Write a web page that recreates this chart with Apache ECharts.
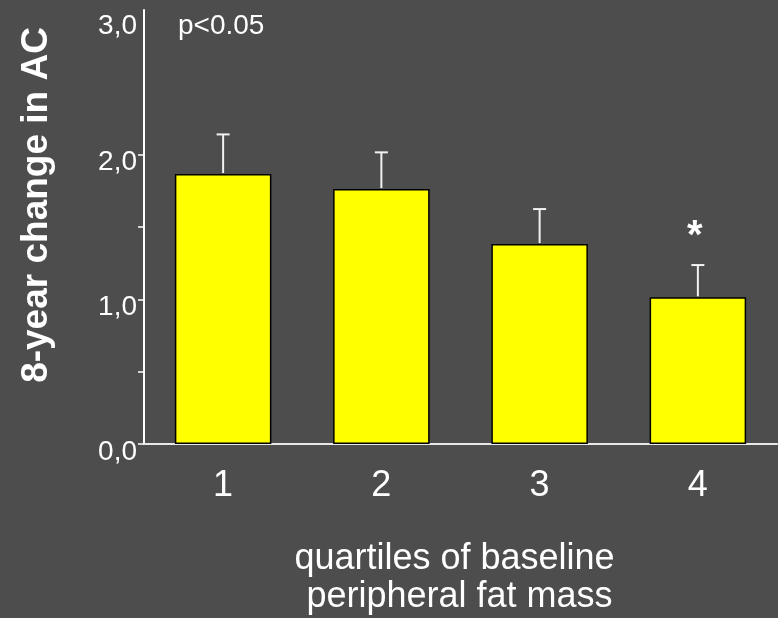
<!DOCTYPE html>
<html>
<head>
<meta charset="utf-8">
<script src="https://cdn.jsdelivr.net/npm/echarts@6/dist/echarts.min.js"></script>
<style>
  html, body { margin: 0; padding: 0; background: #4d4d4d; }
  #chart { width: 778px; height: 618px; }
</style>
</head>
<body>
<div id="chart"></div>
<script>
// Quartiles of baseline peripheral fat mass
const quartiles = ['1', '2', '3', '4'];
// Mean 8-year change in AC per quartile
const meanChange = [1.866, 1.762, 1.382, 1.014];
// Upper end of the error bar (mean + SE)
const upperError = [2.14, 2.016, 1.624, 1.237];
// Significance marker above each bar
const sigMarks = ['', '', '', '*'];
// Y axis ticks and labels
const yTicks = [0, 0.5, 1, 1.5, 2];
const yLabels = [0, 1, 2, 3];

const FONT = '"Liberation Sans", Arial, sans-serif';
const chart = echarts.init(document.getElementById('chart'));

const errData = quartiles.map((q, i) => [i, meanChange[i], upperError[i]]);

chart.setOption({
  backgroundColor: '#4d4d4d',
  animation: false,
  grid: { left: 144, right: 1, top: 10, bottom: 174, outerBoundsMode: 'none', containLabel: false },
  xAxis: {
    type: 'category',
    data: quartiles,
    axisLine: { lineStyle: { color: '#e8e8e8', width: 2 } },
    axisTick: { alignWithLabel: true, length: 5, lineStyle: { color: '#000', width: 2 } },
    axisLabel: { color: '#fff', fontSize: 36, fontFamily: FONT, margin: 24 },
    name: 'quartiles of baseline\n peripheral fat mass',
    nameLocation: 'middle',
    nameGap: 96,
    nameTextStyle: { color: '#fff', fontSize: 36, fontFamily: FONT, lineHeight: 38, padding: [0, 12, 0, 0] }
  },
  yAxis: {
    type: 'value',
    min: 0,
    max: 3,
    interval: 1,
    splitLine: { show: false },
    axisLine: { show: true, lineStyle: { color: '#fff', width: 2 } },
    axisTick: { show: true, length: 6, customValues: yTicks, lineStyle: { color: '#fff', width: 1.5 } },
    axisLabel: {
      customValues: yLabels,
      color: '#fff', fontSize: 28, fontFamily: FONT, margin: 7,
      padding: [16, 0, 0, 0],
      formatter: v => (v === 3 ? '{top|3,0}' : v.toFixed(1).replace('.', ',')),
      rich: { top: { color: '#fff', fontSize: 28, fontFamily: FONT, padding: [16, 0, 0, 0] } }
    },
    name: '8-year change in AC',
    nameLocation: 'middle',
    nameGap: 89,
    nameTextStyle: { color: '#fff', fontSize: 37, fontWeight: 'bold', fontFamily: FONT, padding: [0, 0, 0, 44] }
  },
  graphic: [{
    type: 'text',
    left: 178,
    top: 12,
    style: { text: 'p<0.05', fill: '#fff', font: '28px ' + FONT }
  }],
  series: [{
    type: 'bar',
    data: meanChange,
    barWidth: '61%',
    itemStyle: { color: '#ffff00', borderColor: '#000', borderWidth: 1.5 },
    z: 2
  }, {
    type: 'custom',
    data: errData,
    z: 3,
    renderItem: function (params, api) {
      const i = api.value(0);
      const base = api.coord([i, api.value(1)]);
      const top = api.coord([i, api.value(2)]);
      const style = { stroke: '#f2f2f2', lineWidth: 2 };
      const children = [
        { type: 'line', shape: { x1: base[0], y1: base[1] - 1, x2: top[0], y2: top[1] }, style },
        { type: 'line', shape: { x1: top[0] - 6.5, y1: top[1], x2: top[0] + 6.5, y2: top[1] }, style }
      ];
      const mark = sigMarks[params.dataIndex];
      if (mark) {
        children.push({
          type: 'text',
          x: top[0] - 3,
          y: top[1] - 28,
          style: { text: mark, fill: '#fff', font: 'bold 40px ' + FONT, align: 'center', verticalAlign: 'middle' }
        });
      }
      return { type: 'group', children };
    }
  }]
});
</script>
</body>
</html>
